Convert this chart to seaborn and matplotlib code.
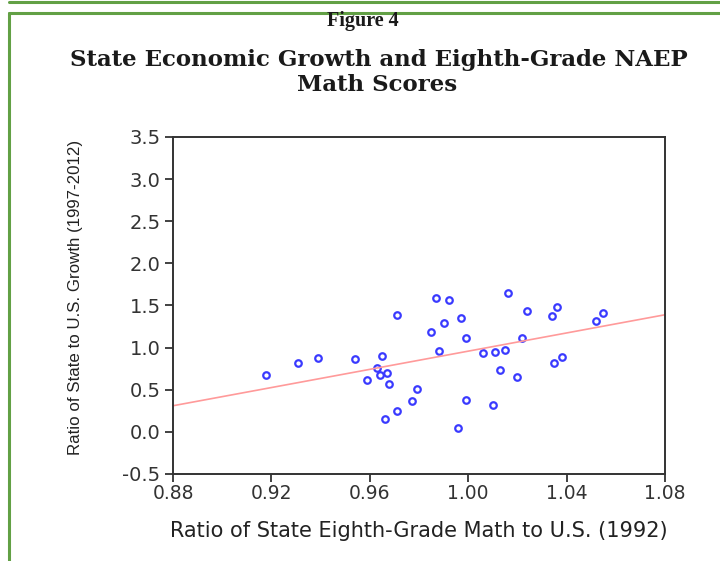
import matplotlib
matplotlib.use("Agg")
import matplotlib.pyplot as plt
from matplotlib.lines import Line2D
import seaborn as sns
import pandas as pd

# Ratio of state eighth-grade math score to U.S. (1992)
math_ratio = [
    0.918, 0.931, 0.939, 0.954, 0.959, 0.963, 0.965, 0.964, 0.967, 0.968,
    0.971, 0.966, 0.971, 0.977, 0.979, 0.987, 0.992, 1.016, 1.024, 1.036,
    1.034, 1.055, 1.052, 0.997, 0.990, 0.985, 0.999, 1.022, 0.988, 1.006,
    1.011, 1.015, 1.038, 1.035, 1.013, 1.020, 0.999, 1.010, 0.996,
]
# Ratio of state to U.S. growth (1997-2012)
growth_ratio = [
    0.68, 0.82, 0.88, 0.86, 0.61, 0.76, 0.90, 0.68, 0.70, 0.57,
    1.39, 0.15, 0.25, 0.37, 0.51, 1.59, 1.57, 1.65, 1.44, 1.48,
    1.38, 1.41, 1.32, 1.35, 1.29, 1.18, 1.12, 1.12, 0.96, 0.94,
    0.95, 0.97, 0.89, 0.82, 0.74, 0.65, 0.38, 0.32, 0.04,
]
# fitted line end points
fit_x = [0.88, 1.08]
fit_y = [0.31, 1.39]

x_ticks = [0.88, 0.92, 0.96, 1.00, 1.04, 1.08]
y_ticks = [-0.5, 0.0, 0.5, 1.0, 1.5, 2.0, 2.5, 3.0, 3.5]

df = pd.DataFrame({"math": math_ratio, "growth": growth_ratio})

sns.set_style("white")
plt.rcParams["font.family"] = ["DejaVu Sans"]

fig = plt.figure(figsize=(7.2, 5.61), dpi=100)
ax = fig.add_axes([0.2403, 0.1551, 0.6833, 0.6007])

sns.lineplot(x=fit_x, y=fit_y, color="#ff9a9a", linewidth=1.2, ax=ax)
sns.scatterplot(data=df, x="math", y="growth", marker="o", s=22,
                facecolor="white", edgecolor="#3a3aff", linewidth=1.6, ax=ax)

ax.set_xlim(0.88, 1.08)
ax.set_ylim(-0.5, 3.5)
ax.set_xticks(x_ticks)
ax.set_xticklabels([f"{v:.2f}" for v in x_ticks])
ax.set_yticks(y_ticks)
ax.set_yticklabels([f"{v:.1f}" for v in y_ticks])
ax.tick_params(axis="both", direction="out", length=6, width=1.3,
               color="#333333", labelcolor="#333333",
               left=True, bottom=True, pad=3)
ax.tick_params(axis="x", labelsize=13.5, pad=1)
ax.tick_params(axis="y", labelsize=14)
for s in ax.spines.values():
    s.set_color("#333333")
    s.set_linewidth(1.4)

ax.set_xlabel("Ratio of State Eighth-Grade Math to U.S. (1992)",
              fontsize=15, color="#222222", labelpad=13)
ax.set_ylabel("Ratio of State to U.S. Growth (1997-2012)",
              fontsize=12.2, color="#222222",
              family=["Liberation Sans"])
ax.yaxis.set_label_coords(-0.183, 0.525)

fig.text(0.504, 0.963, "Figure 4", ha="center", va="center",
         fontsize=14.5, fontweight="bold", family="Liberation Serif", color="#1a1a1a")
fig.text(0.526, 0.893, "State Economic Growth and Eighth-Grade NAEP",
         ha="center", va="center", fontsize=16.5, fontweight="bold",
         family="DejaVu Serif", color="#1a1a1a")
fig.text(0.524, 0.848, "Math Scores",
         ha="center", va="center", fontsize=16.5, fontweight="bold",
         family="DejaVu Serif", color="#1a1a1a")

# green frames
green = "#62a045"
fig.add_artist(Line2D([9 / 720, 1.0], [1 - 2 / 561, 1 - 2 / 561], color=green, lw=2.2))
fig.add_artist(Line2D([9 / 720, 1.0], [1 - 13 / 561, 1 - 13 / 561], color=green, lw=2.2))
fig.add_artist(Line2D([9 / 720, 9 / 720], [0.0, 1 - 13 / 561], color=green, lw=2.2))

fig.savefig("out.png", dpi=100)
